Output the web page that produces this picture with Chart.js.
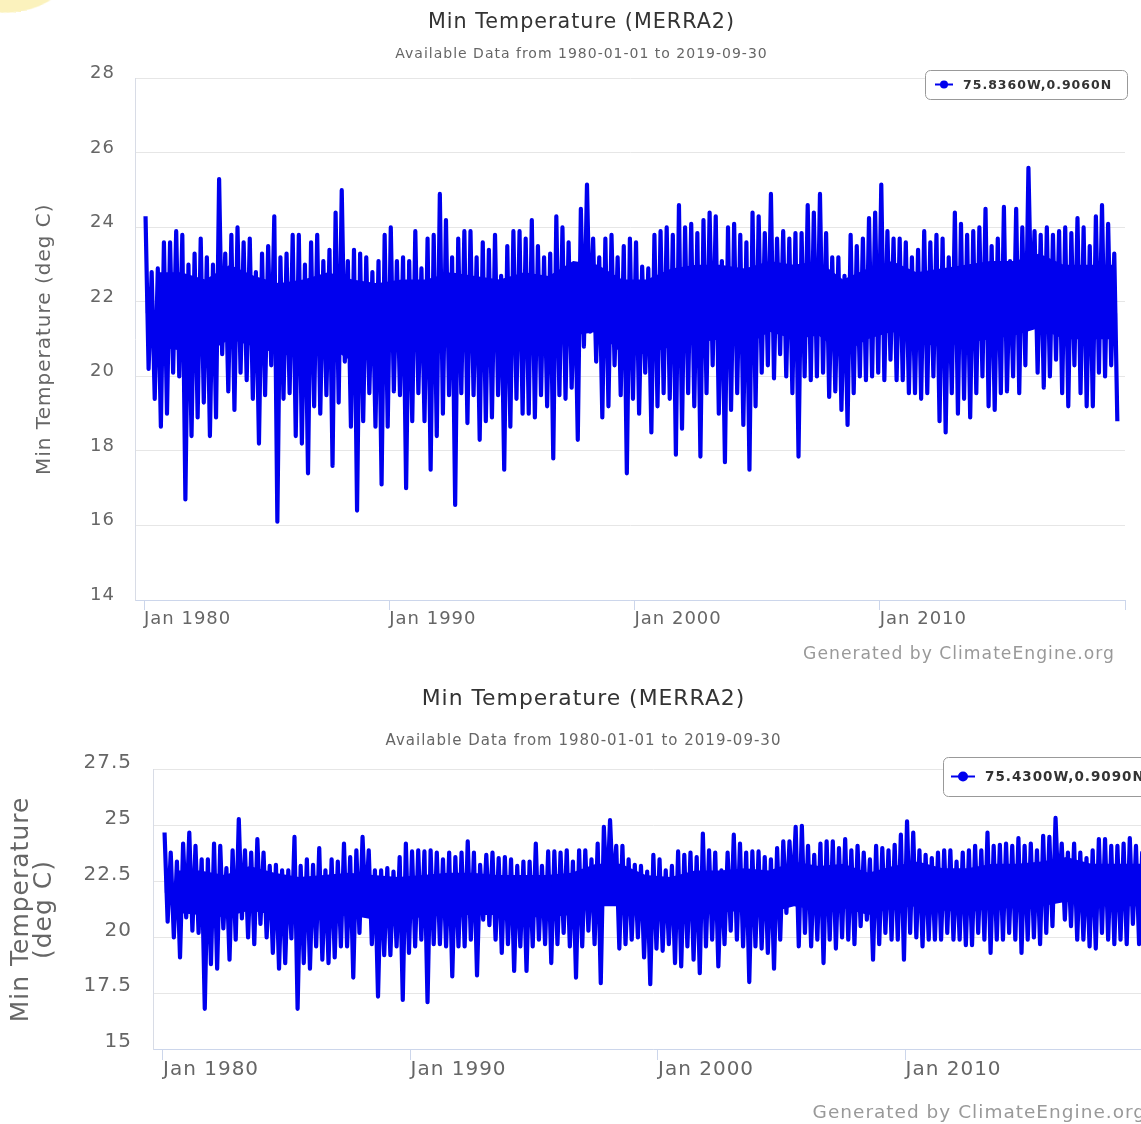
<!DOCTYPE html>
<html>
<head>
<meta charset="utf-8">
<title>Min Temperature (MERRA2)</title>
<script src="https://cdn.jsdelivr.net/npm/chart.js@4.4.1/dist/chart.umd.min.js"></script>
<style>
  html, body { margin: 0; padding: 0; background: #fff; overflow: hidden; }
  body { width: 1141px; height: 1124px; position: relative; }
  canvas { position: absolute; left: 0; }
  #c1 { top: 0; }
  #c2 { top: 670px; }
  .mark { position: absolute; left: -34px; top: -44px; width: 100px; height: 56px; border-radius: 50%;
          background: #fbf2bd; transform: rotate(-10deg); }
</style>
</head>
<body>
<canvas id="c1" width="1141" height="672"></canvas>
<canvas id="c2" width="1175" height="454"></canvas>
<div class="mark"></div>
<script>
// quarterly highs / lows, 1980 Q1 .. 2019 Q3
const hi1 = [
  24.3, 22.8, 22.9, 23.6, 23.6, 23.9, 23.8, 23.0, 23.3, 23.7,
  23.2, 23.0, 25.3, 23.3, 23.8, 24.0, 23.6, 23.7, 22.8, 23.3,
  23.5, 24.3, 23.2, 23.3, 23.8, 23.8, 23.0, 23.6, 23.8, 23.1,
  23.4, 24.4, 25.0, 23.1, 23.4, 23.3, 23.2, 22.8, 23.1, 23.8,
  24.0, 23.1, 23.2, 23.1, 23.9, 22.9, 23.7, 23.8, 24.9, 24.2,
  23.2, 23.7, 23.9, 23.9, 23.2, 23.6, 23.4, 23.8, 22.7, 23.5,
  23.9, 23.9, 23.7, 24.2, 23.5, 23.2, 23.3, 24.3, 24.0, 23.6,
  22.9, 24.5, 25.15, 23.7, 23.2, 23.7, 23.8, 23.2, 23.5, 23.7,
  23.6, 22.95, 22.9, 23.8, 23.9, 24.0, 23.8, 24.6, 24.0, 24.1,
  23.85, 24.2, 24.4, 24.3, 23.1, 24.0, 24.1, 23.8, 23.6, 24.4,
  24.3, 23.85, 24.9, 23.7, 23.9, 23.7, 23.85, 23.85, 24.6, 24.4,
  24.9, 23.85, 23.2, 23.2, 22.7, 23.8, 23.5, 23.7, 24.25, 24.4,
  25.15, 23.9, 23.7, 23.7, 23.6, 23.2, 23.4, 23.9, 23.6, 23.8,
  23.7, 23.2, 24.4, 24.1, 23.8, 23.9, 24.0, 24.5, 23.5, 23.7,
  24.55, 23.1, 24.5, 24.0, 25.6, 23.9, 23.8, 24.0, 23.8, 23.9,
  24.0, 23.85, 24.25, 24.0, 23.5, 24.3, 24.6, 24.1, 23.3
];
const lo1 = [
  20.2, 19.4, 18.65, 19.0, 20.1, 20.0, 16.7, 18.4, 18.9, 19.3,
  18.4, 18.9, 20.6, 19.6, 19.1, 20.1, 19.9, 19.4, 18.2, 19.5,
  20.3, 16.1, 19.4, 19.55, 18.4, 18.2, 17.4, 19.2, 19.0, 19.5,
  17.6, 19.3, 20.4, 18.65, 16.4, 18.8, 19.55, 18.65, 17.1, 18.65,
  19.6, 19.5, 17.0, 18.8, 19.55, 18.8, 17.5, 18.4, 19.0, 19.5,
  16.55, 19.55, 18.75, 19.5, 18.3, 18.8, 18.9, 19.5, 17.5, 18.65,
  19.4, 19.0, 19.0, 18.9, 19.5, 19.2, 17.8, 19.5, 19.4, 19.7,
  18.3, 20.8, 21.2, 20.4, 18.9, 19.2, 20.3, 19.5, 17.4, 19.4,
  19.0, 20.1, 18.5, 19.2, 19.55, 19.4, 17.9, 18.6, 19.55, 19.2,
  17.85, 19.55, 20.3, 19.0, 17.7, 19.1, 19.55, 18.7, 17.5, 19.2,
  20.1, 20.3, 19.95, 20.6, 20.0, 19.55, 17.85, 20.0, 19.9, 20.0,
  20.1, 19.45, 19.6, 19.1, 18.7, 19.55, 20.0, 19.9, 20.0, 20.1,
  19.9, 20.45, 19.9, 19.9, 19.55, 19.55, 19.4, 19.55, 20.0, 18.8,
  18.5, 19.55, 19.0, 19.4, 18.9, 19.55, 20.0, 19.2, 19.1, 19.55,
  19.6, 20.0, 19.55, 20.3, 21.6, 20.1, 19.7, 20.0, 20.45, 19.55,
  19.2, 20.3, 19.55, 19.2, 19.2, 20.1, 20.0, 20.3, 18.8
];
// yearly dense core of the band (top, bottom), 1980 .. 2019
const coreTop1 = [
  22.8, 22.8, 22.6, 23.0, 22.7, 22.5, 22.6, 22.8, 22.6, 22.5,
  22.6, 22.6, 22.8, 22.7, 22.6, 22.8, 22.7, 23.1, 23.0, 22.6,
  22.6, 22.9, 23.0, 23.0, 22.9, 23.1, 23.0, 23.1, 22.6, 22.9,
  23.1, 22.8, 22.9, 23.0, 23.1, 23.1, 23.3, 23.0, 23.0, 23.0
];
const coreBot1 = [
  20.8, 20.7, 20.6, 21.0, 20.8, 20.6, 20.5, 20.8, 20.4, 20.6,
  20.7, 20.7, 20.8, 20.7, 20.7, 20.7, 20.8, 21.1, 21.2, 20.6,
  20.6, 20.8, 20.9, 21.0, 20.8, 21.2, 21.0, 21.1, 20.6, 21.0,
  21.2, 20.9, 20.8, 20.9, 21.0, 21.1, 21.3, 21.0, 21.0, 21.0
];
const hi2 = [
  24.7, 23.8, 23.4, 24.2, 24.7, 24.1, 23.5, 23.5, 24.2, 24.1,
  23.1, 23.9, 25.3, 23.9, 23.8, 24.4, 23.8, 23.2, 23.25, 23.0,
  23.0, 24.5, 23.2, 23.5, 23.25, 24.0, 23.0, 23.5, 23.4, 24.2,
  23.6, 23.9, 24.5, 23.9, 23.0, 23.0, 23.1, 22.95, 23.6, 24.2,
  23.85, 23.9, 23.85, 23.9, 23.8, 23.5, 23.8, 23.6, 23.8, 24.3,
  23.8, 23.25, 23.7, 23.8, 23.55, 23.6, 23.5, 23.2, 23.4, 23.4,
  24.2, 23.2, 23.85, 23.85, 23.8, 23.9, 23.4, 23.9, 23.9, 23.5,
  24.2, 24.95, 25.25, 24.1, 24.1, 23.5, 23.25, 23.2, 22.95, 23.7,
  23.5, 23.0, 23.2, 23.85, 23.7, 23.8, 23.6, 24.65, 23.9, 23.8,
  23.0, 23.8, 24.6, 24.2, 23.8, 23.85, 23.85, 23.6, 23.5, 24.0,
  24.3, 24.3, 24.95, 25.0, 24.1, 23.7, 24.2, 24.3, 24.3, 24.0,
  24.4, 23.9, 24.1, 23.8, 23.5, 24.1, 24.0, 23.9, 24.15, 24.6,
  25.2, 24.7, 23.9, 23.7, 23.55, 23.8, 23.9, 23.9, 23.4, 23.8,
  23.9, 24.1, 23.9, 24.7, 24.1, 24.15, 24.2, 24.1, 24.45, 24.1,
  24.2, 23.9, 24.55, 24.5, 25.35, 24.2, 23.8, 24.2, 23.8, 23.55,
  23.9, 24.4, 24.4, 24.1, 24.1, 24.2, 24.45, 24.1, 23.8
];
const lo2 = [
  20.7, 20.0, 19.1, 20.9, 20.3, 20.2, 16.8, 18.8, 18.6, 20.4,
  19.0, 19.9, 20.85, 20.0, 19.7, 20.6, 20.0, 19.3, 18.6, 18.85,
  19.95, 16.8, 18.85, 18.6, 19.6, 19.0, 18.85, 19.1, 19.6, 19.6,
  18.2, 20.2, 21.2, 19.7, 17.35, 19.2, 19.2, 19.6, 17.2, 19.3,
  19.6, 19.9, 17.1, 19.7, 19.7, 19.6, 18.25, 19.6, 19.6, 19.9,
  18.3, 20.8, 20.55, 19.9, 19.3, 19.7, 18.5, 19.6, 18.5, 19.6,
  19.9, 19.7, 18.85, 19.7, 20.2, 19.6, 18.2, 19.6, 20.3, 19.7,
  17.95, 21.7, 22.0, 19.5, 19.7, 19.9, 20.0, 19.1, 17.9, 19.5,
  19.4, 19.7, 18.85, 18.7, 19.6, 19.0, 18.4, 19.6, 19.9, 18.7,
  19.7, 20.3, 19.9, 19.6, 18.0, 19.6, 19.5, 19.3, 18.6, 19.9,
  21.1, 21.7, 19.6, 20.2, 19.6, 19.9, 18.85, 19.9, 19.5, 20.0,
  19.9, 19.7, 20.5, 20.8, 19.0, 19.7, 20.2, 19.9, 19.9, 19.0,
  20.2, 20.0, 19.6, 19.9, 19.9, 19.9, 20.2, 19.9, 19.9, 19.65,
  19.65, 20.2, 19.9, 19.3, 19.9, 19.9, 20.2, 19.9, 19.3, 19.9,
  20.0, 19.7, 20.2, 20.5, 21.7, 20.8, 20.5, 19.9, 19.9, 19.6,
  19.5, 20.2, 19.9, 19.7, 19.9, 19.7, 20.6, 19.7, 19.9
];
const coreTop2 = [
  23.0, 23.0, 22.8, 23.2, 22.9, 22.7, 22.8, 22.9, 22.8, 22.7,
  22.8, 22.9, 22.9, 22.8, 22.8, 22.8, 22.9, 23.3, 23.3, 22.8,
  22.7, 23.0, 23.0, 23.1, 23.0, 23.4, 23.2, 23.3, 22.9, 23.2,
  23.4, 23.1, 23.1, 23.3, 23.3, 23.4, 23.6, 23.3, 23.3, 23.3
];
const coreBot2 = [
  21.1, 21.0, 20.9, 21.2, 21.0, 20.8, 20.8, 21.0, 20.8, 20.8,
  20.9, 21.0, 21.0, 21.0, 20.9, 20.9, 21.0, 21.4, 21.4, 20.9,
  20.8, 21.0, 21.1, 21.2, 21.1, 21.4, 21.2, 21.3, 21.0, 21.3,
  21.4, 21.2, 21.1, 21.3, 21.3, 21.4, 21.6, 21.4, 21.4, 21.4
];
const firstYear = 1980;
const xTickYears = [1980, 1990, 2000, 2010, 2020];
const xTickLabels = ['Jan 1980', 'Jan 1990', 'Jan 2000', 'Jan 2010', ''];
const yTicks1 = [14, 16, 18, 20, 22, 24, 26, 28];
const yTicks2 = [15, 17.5, 20, 22.5, 25, 27.5];
const titleText = 'Min Temperature (MERRA2)';
const subtitleText = 'Available Data from 1980-01-01 to 2019-09-30';
const creditText = 'Generated by ClimateEngine.org';
const lineColor = '#0000ee';

Chart.defaults.font.family = '"DejaVu Sans", sans-serif';

// each quarter: its high, then its low
function toPoints(hi, lo) {
  const pts = [];
  for (let i = 0; i < hi.length; i++) {
    const t = firstYear + i * 0.25;
    pts.push({x: t + 0.0625, y: hi[i]});
    pts.push({x: t + 0.1875, y: lo[i]});
  }
  return pts;
}

// one point per year, kept inside the span of the quarterly series
function yearPoints(vals, nQuarters) {
  const start = firstYear + 0.0625;
  const end = firstYear + (nQuarters - 1) * 0.25 + 0.1875;
  return vals.map((v, i) => ({x: Math.min(end, Math.max(start, firstYear + i + 0.5)), y: v}));
}

const spacing = {
  id: 'spacing',
  beforeDraw(chart) { chart.ctx.letterSpacing = '1px'; }
};

const boxLegend = {
  id: 'boxLegend',
  afterDraw(chart, args, o) {
    const ctx = chart.ctx;
    ctx.save();
    ctx.beginPath();
    ctx.roundRect(o.x + 0.5, o.y + 0.5, o.w, o.h, 5);
    ctx.fillStyle = '#fff';
    ctx.fill();
    ctx.strokeStyle = '#999';
    ctx.lineWidth = 1;
    ctx.stroke();
    const cy = o.y + o.h / 2;
    ctx.strokeStyle = lineColor;
    ctx.lineWidth = 2;
    ctx.beginPath();
    ctx.moveTo(o.x + o.pad, cy);
    ctx.lineTo(o.x + o.pad + o.sym, cy);
    ctx.stroke();
    ctx.fillStyle = lineColor;
    ctx.beginPath();
    ctx.arc(o.x + o.pad + o.sym / 2, cy, o.r, 0, Math.PI * 2);
    ctx.fill();
    ctx.font = 'bold ' + o.size + 'px "DejaVu Sans"';
    ctx.fillStyle = '#333';
    ctx.textAlign = 'left';
    ctx.textBaseline = 'middle';
    ctx.fillText(chart.data.datasets[0].label, o.x + o.pad + o.sym + o.gap, cy + 1);
    ctx.restore();
  }
};

const credits = {
  id: 'credits',
  afterDraw(chart, args, o) {
    const ctx = chart.ctx;
    ctx.save();
    ctx.font = o.size + 'px "DejaVu Sans"';
    ctx.fillStyle = '#999';
    ctx.textAlign = 'right';
    ctx.textBaseline = 'middle';
    ctx.fillText(creditText, o.x, o.y);
    ctx.restore();
  }
};

function makeChart(id, hi, lo, coreTop, coreBot, yTicks, c) {
  return new Chart(document.getElementById(id), {
    type: 'line',
    data: {
      datasets: [{
        label: c.label,
        data: toPoints(hi, lo),
        borderColor: lineColor,
        backgroundColor: lineColor,
        borderWidth: 4.2,
        borderJoinStyle: 'round',
        pointRadius: 0,
        tension: 0,
        fill: { value: c.mid }
      }, {
        label: 'core top',
        data: yearPoints(coreTop, hi.length),
        borderWidth: 0,
        pointRadius: 0,
        fill: false
      }, {
        label: 'core bottom',
        data: yearPoints(coreBot, hi.length),
        borderWidth: 0,
        pointRadius: 0,
        backgroundColor: lineColor,
        fill: '-1'
      }]
    },
    plugins: [spacing, boxLegend, credits],
    options: {
      responsive: false,
      animation: false,
      devicePixelRatio: 1,
      layout: { padding: { left: c.padLeft, right: c.padRight, top: 0, bottom: 0 } },
      plugins: {
        legend: { display: false },
        tooltip: { enabled: false },
        title: {
          display: true, text: titleText, color: '#333',
          font: { size: c.titleSize, weight: 'normal', lineHeight: 1.2 },
          padding: { top: c.titleTop, bottom: 0 }
        },
        subtitle: {
          display: true, text: subtitleText, color: '#666',
          font: { size: c.subSize, lineHeight: 1.2 },
          padding: { top: c.subTop, bottom: c.subBottom }
        },
        boxLegend: c.legend,
        credits: c.credits
      },
      scales: {
        x: {
          type: 'linear',
          min: c.xMin,
          max: xTickYears[xTickYears.length - 1],
          afterBuildTicks: s => { s.ticks = xTickYears.map(v => ({ value: v })); },
          afterFit: s => { s.height = c.xHeight; },
          grid: { drawOnChartArea: false, drawTicks: true, tickLength: c.tickLen, color: '#ccd6eb' },
          border: { color: '#ccd6eb' },
          ticks: {
            autoSkip: false, maxRotation: 0, minRotation: 0, align: 'start', padding: 0,
            color: '#666', font: { size: c.xFont, lineHeight: 1 },
            callback: (v, i) => xTickLabels[i]
          }
        },
        y: {
          min: yTicks[0],
          max: yTicks[yTicks.length - 1],
          afterBuildTicks: s => { s.ticks = yTicks.map(v => ({ value: v })); },
          afterFit: s => { s.width = c.yWidth; },
          grid: { color: '#e6e6e6', drawTicks: false },
          border: { color: '#d8dce6' },
          ticks: { color: '#666', padding: c.yPad, labelOffset: c.yOff, font: { size: c.yFont } },
          title: {
            display: true, text: c.yTitle, color: '#666',
            font: { size: c.yTitleSize, lineHeight: c.yTitleLH },
            padding: { top: c.yTitlePad, bottom: 0 }
          }
        }
      }
    }
  });
}

makeChart('c1', hi1, lo1, coreTop1, coreBot1, yTicks1, {
  label: '75.8360W,0.9060N',
  mid: 21.7,
  padLeft: 38, padRight: 16,
  titleSize: 20.7, titleTop: 10,
  subSize: 14, subTop: 11.2, subBottom: 15.6,
  xMin: 1979.633, xHeight: 72, tickLen: 10, xFont: 18,
  yWidth: 97, yPad: 20, yOff: -5, yFont: 18,
  yTitle: 'Min Temperature (deg C)', yTitleSize: 20, yTitleLH: 0.7, yTitlePad: 0,
  legend: { x: 925, y: 70, w: 202, h: 29, pad: 10, sym: 18, r: 4, gap: 10, size: 12.5 },
  credits: { x: 1115, y: 655, size: 17.2 }
});

makeChart('c2', hi2, lo2, coreTop2, coreBot2, yTicks2, {
  label: '75.4300W,0.9090N',
  mid: 22.0,
  padLeft: 14, padRight: 22,
  titleSize: 21.9, titleTop: 16.1,
  subSize: 15, subTop: 19.6, subBottom: 20,
  xMin: 1979.596, xHeight: 75, tickLen: 11, xFont: 20,
  yWidth: 139, yPad: 21, yOff: -7, yFont: 20,
  yTitle: ['Min Temperature', '(deg C)'], yTitleSize: 25, yTitleLH: 0.92, yTitlePad: -4.5,
  legend: { x: 943, y: 87, w: 225, h: 39, pad: 8, sym: 24, r: 5, gap: 10, size: 13.5 },
  credits: { x: 1146, y: 443, size: 18.5 }
});
</script>
</body>
</html>
